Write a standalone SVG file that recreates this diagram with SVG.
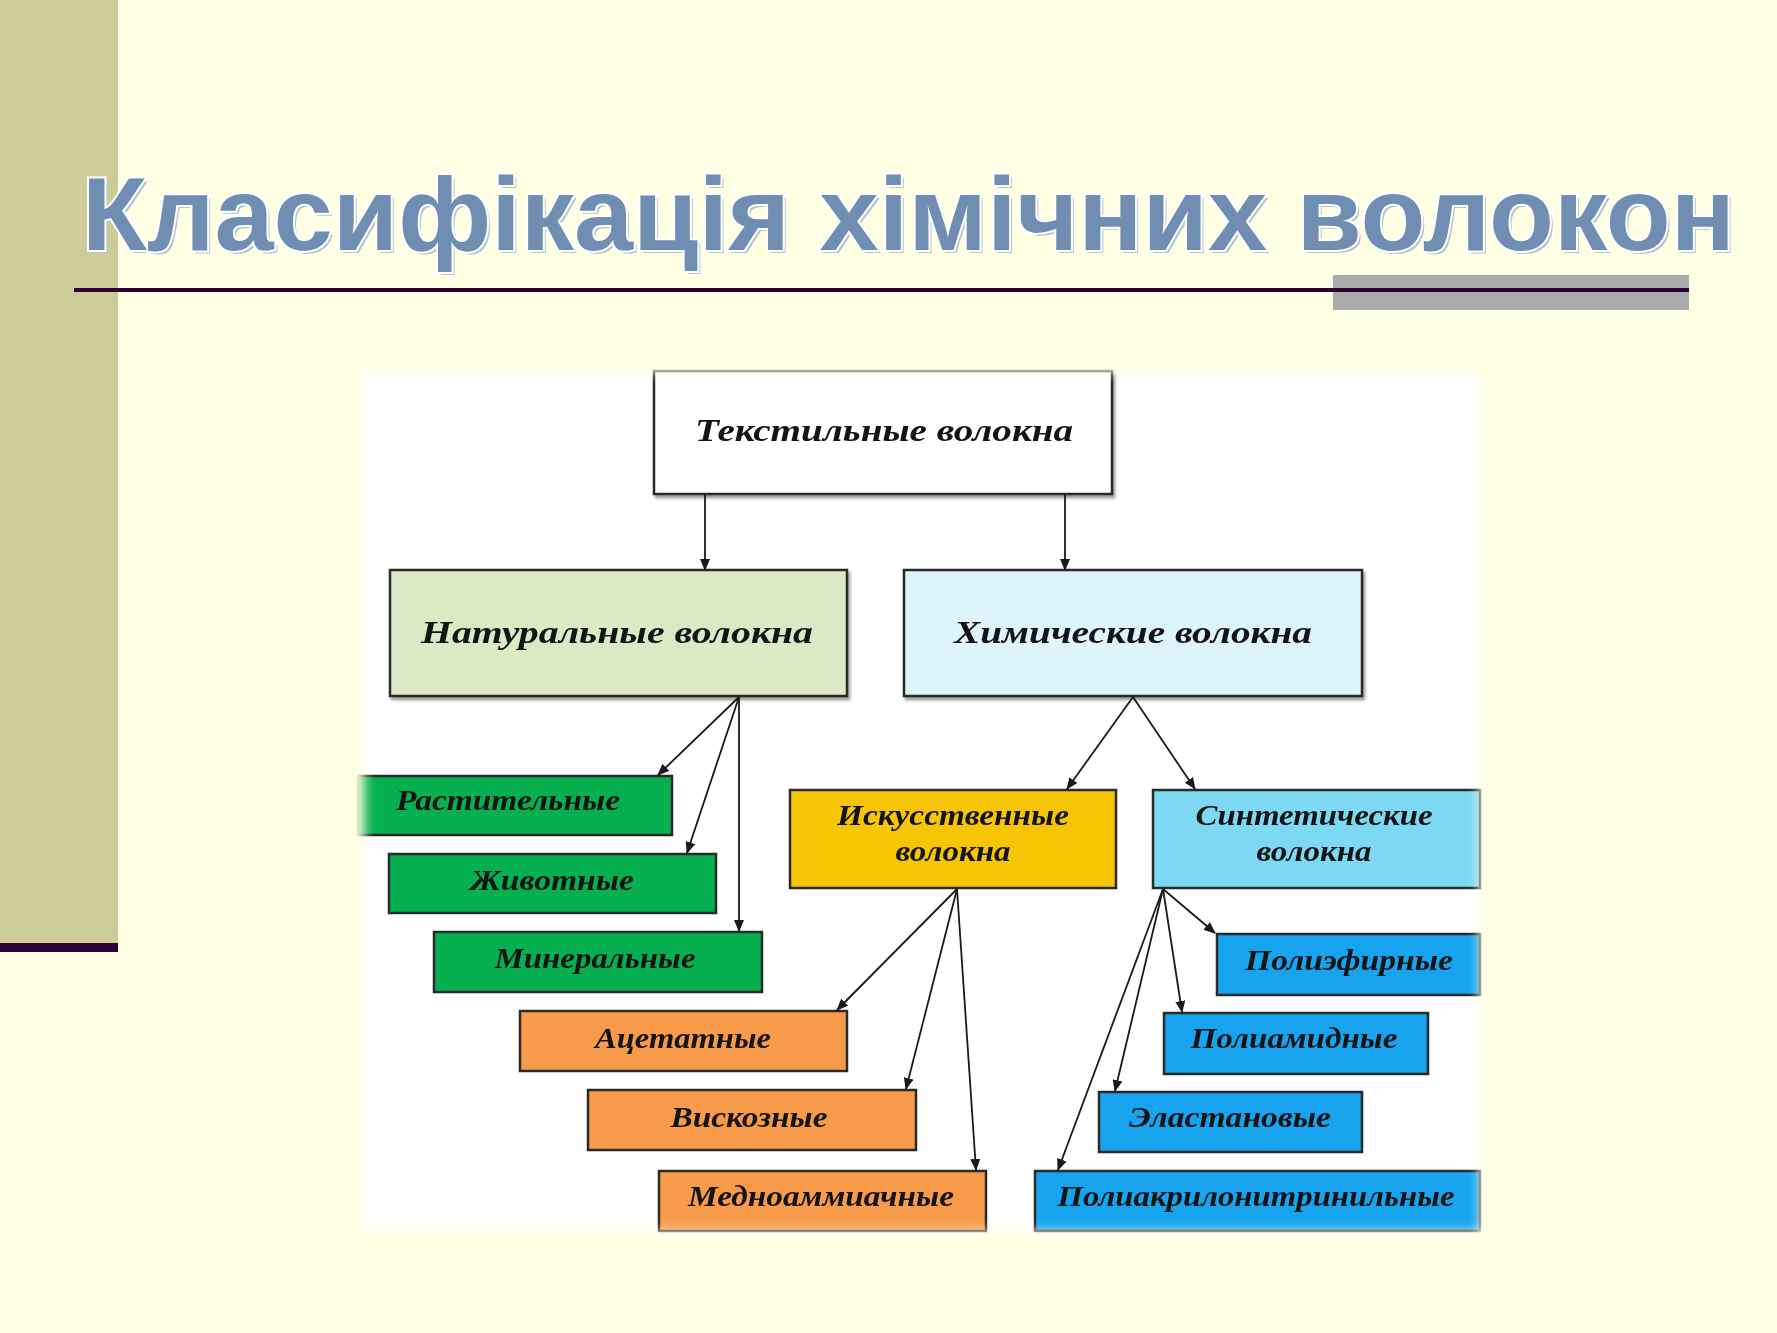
<svg xmlns="http://www.w3.org/2000/svg" width="1777" height="1333" viewBox="0 0 1777 1333">
<defs>
<style>
.lbl{font-family:"Liberation Serif","DejaVu Serif",serif;font-weight:bold;font-style:italic;fill:#141414;text-anchor:middle}
.top{font-size:32px}
.sub{font-size:30px}
.box{stroke:#2a2a2a;stroke-width:2.5}
.conn line{stroke:#1a1a1a;stroke-width:1.8;marker-end:url(#arr)}
</style>
<marker id="arr" markerWidth="12" markerHeight="10" refX="11" refY="5" orient="auto" markerUnits="userSpaceOnUse">
<path d="M0,0 L12,5 L0,10 z" fill="#1a1a1a"/>
</marker>
<filter id="blur" x="-10%" y="-10%" width="120%" height="120%"><feGaussianBlur stdDeviation="6"/></filter>
<filter id="shadow" x="-5%" y="-5%" width="115%" height="120%"><feDropShadow dx="2" dy="3" stdDeviation="1.5" flood-color="#555" flood-opacity="0.6"/></filter>
<mask id="soft" maskUnits="userSpaceOnUse" x="0" y="0" width="1777" height="1333">
<rect x="364" y="372" width="1116" height="860" fill="#fff" filter="url(#blur)"/>
</mask>
</defs>
<rect x="0" y="0" width="1777" height="1333" fill="#FFFFE3"/>
<rect x="0" y="0" width="118" height="943" fill="#CCCC99"/>
<rect x="0" y="943" width="118" height="9" fill="#330033"/>
<rect x="1333" y="275" width="356" height="35" fill="#ABABAB"/>
<line x1="74" y1="290" x2="1689" y2="290" stroke="#330033" stroke-width="4"/>
<g id="title">
<text x="85" y="253" font-family="Liberation Sans, Arial, sans-serif" font-weight="bold" font-size="104" fill="#B4C2D4" textLength="1653" lengthAdjust="spacingAndGlyphs">Класифікація хімічних волокон</text>
<text x="82" y="250" font-family="Liberation Sans, Arial, sans-serif" font-weight="bold" font-size="104" fill="#6F8EB2" stroke="#FFFFFF" stroke-width="4" paint-order="stroke" textLength="1653" lengthAdjust="spacingAndGlyphs">Класифікація хімічних волокон</text>
</g>
<g id="diagram" mask="url(#soft)">
<rect x="340" y="350" width="1160" height="900" fill="#FFFFFF"/>
<g id="n-textile"><rect class="box" x="654" y="371" width="458" height="123" fill="#FFFFFF" filter="url(#shadow)"/><text class="lbl top" x="884" y="441" textLength="378" lengthAdjust="spacingAndGlyphs">Текстильные волокна</text></g>
<g id="n-natural"><rect class="box" x="390" y="570" width="457" height="126" fill="#DDE8C4" filter="url(#shadow)"/><text class="lbl top" x="617" y="643" textLength="392" lengthAdjust="spacingAndGlyphs">Натуральные волокна</text></g>
<g id="n-chem"><rect class="box" x="904" y="570" width="458" height="126" fill="#DDF4FA" filter="url(#shadow)"/><text class="lbl top" x="1133" y="643" textLength="358" lengthAdjust="spacingAndGlyphs">Химические волокна</text></g>
<g id="n-plant"><rect class="box" x="358" y="776" width="314" height="59" fill="#06B050"/><text class="lbl sub" x="508" y="810" textLength="224" lengthAdjust="spacingAndGlyphs">Растительные</text></g>
<g id="n-animal"><rect class="box" x="389" y="854" width="327" height="59" fill="#06B050"/><text class="lbl sub" x="552" y="890" textLength="164" lengthAdjust="spacingAndGlyphs">Животные</text></g>
<g id="n-mineral"><rect class="box" x="434" y="932" width="328" height="60" fill="#06B050"/><text class="lbl sub" x="595" y="968" textLength="201" lengthAdjust="spacingAndGlyphs">Минеральные</text></g>
<g id="n-acetate"><rect class="box" x="520" y="1011" width="327" height="60" fill="#F79A4A"/><text class="lbl sub" x="683" y="1048" textLength="176" lengthAdjust="spacingAndGlyphs">Ацетатные</text></g>
<g id="n-viscose"><rect class="box" x="588" y="1090" width="328" height="60" fill="#F79A4A"/><text class="lbl sub" x="749" y="1127" textLength="157" lengthAdjust="spacingAndGlyphs">Вискозные</text></g>
<g id="n-copper"><rect class="box" x="659" y="1171" width="327" height="60" fill="#F79A4A"/><text class="lbl sub" x="821" y="1206" textLength="266" lengthAdjust="spacingAndGlyphs">Медноаммиачные</text></g>
<g id="n-artificial"><rect class="box" x="790" y="790" width="326" height="98" fill="#F7C505"/><text class="lbl sub" x="953" y="825" textLength="232" lengthAdjust="spacingAndGlyphs">Искусственные</text><text class="lbl sub" x="953" y="861" textLength="115" lengthAdjust="spacingAndGlyphs">волокна</text></g>
<g id="n-synthetic"><rect class="box" x="1153" y="790" width="327" height="98" fill="#7DD9F3"/><text class="lbl sub" x="1314" y="825" textLength="237" lengthAdjust="spacingAndGlyphs">Синтетические</text><text class="lbl sub" x="1314" y="861" textLength="115" lengthAdjust="spacingAndGlyphs">волокна</text></g>
<g id="n-polyester"><rect class="box" x="1217" y="934" width="263" height="61" fill="#17A3EE"/><text class="lbl sub" x="1349" y="970" textLength="208" lengthAdjust="spacingAndGlyphs">Полиэфирные</text></g>
<g id="n-polyamide"><rect class="box" x="1164" y="1013" width="264" height="61" fill="#17A3EE"/><text class="lbl sub" x="1294" y="1048" textLength="207" lengthAdjust="spacingAndGlyphs">Полиамидные</text></g>
<g id="n-elastane"><rect class="box" x="1099" y="1092" width="263" height="60" fill="#17A3EE"/><text class="lbl sub" x="1230" y="1127" textLength="202" lengthAdjust="spacingAndGlyphs">Эластановые</text></g>
<g id="n-pan"><rect class="box" x="1035" y="1171" width="445" height="60" fill="#17A3EE"/><text class="lbl sub" x="1256" y="1206" textLength="397" lengthAdjust="spacingAndGlyphs">Полиакрилонитринильные</text></g>
<g id="connectors" class="conn">
<line x1="705" y1="494" x2="705" y2="570"/>
<line x1="1065" y1="494" x2="1065" y2="570"/>
<line x1="739" y1="697" x2="658" y2="775"/>
<line x1="739" y1="697" x2="687" y2="853"/>
<line x1="739" y1="697" x2="739" y2="931"/>
<line x1="1133" y1="697" x2="1067" y2="789"/>
<line x1="1133" y1="697" x2="1195" y2="789"/>
<line x1="957" y1="889" x2="837" y2="1010"/>
<line x1="957" y1="889" x2="906" y2="1089"/>
<line x1="957" y1="889" x2="976" y2="1170"/>
<line x1="1163" y1="889" x2="1215" y2="933"/>
<line x1="1163" y1="889" x2="1182" y2="1012"/>
<line x1="1163" y1="889" x2="1115" y2="1091"/>
<line x1="1163" y1="889" x2="1058" y2="1170"/>
</g>
</g>
</svg>
